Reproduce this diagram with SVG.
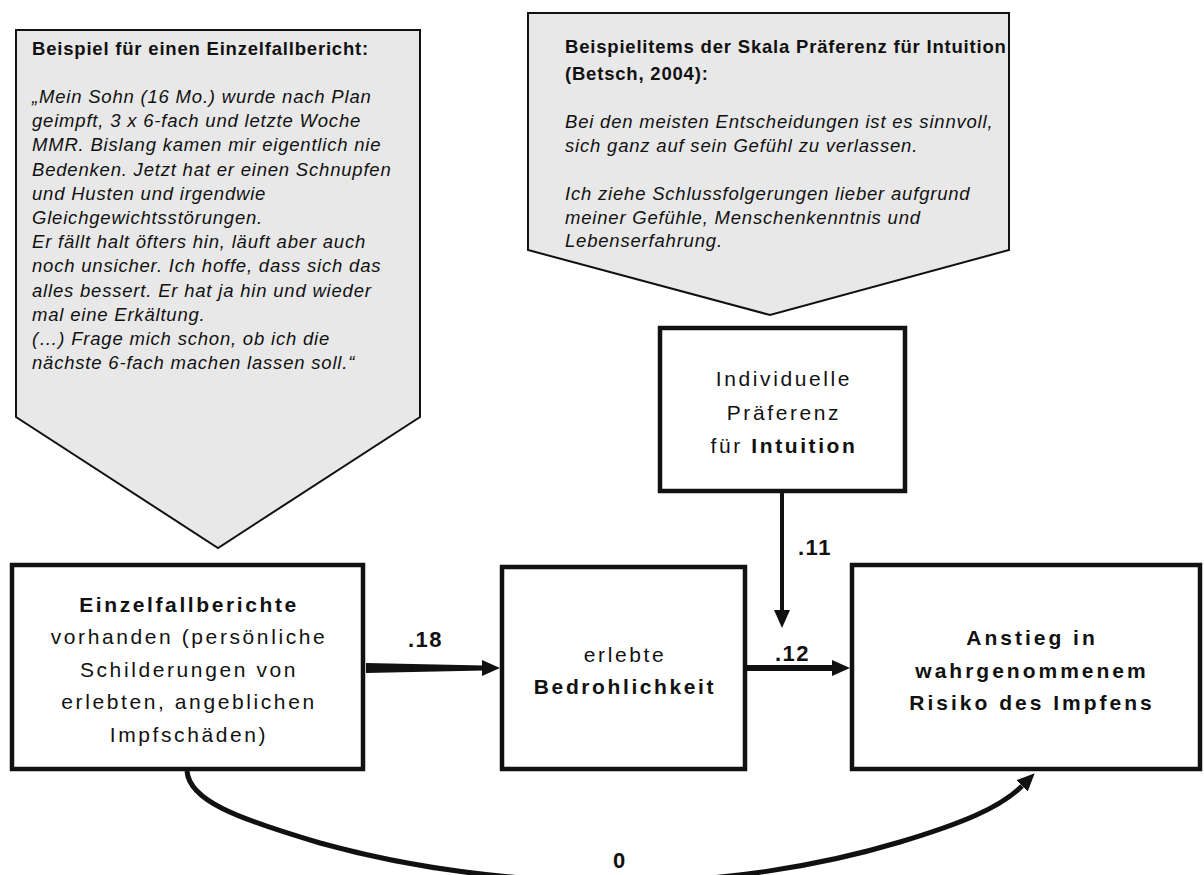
<svg xmlns="http://www.w3.org/2000/svg" width="1204" height="875" viewBox="0 0 1204 875">
<defs>
<style>
text{font-family:"Liberation Sans",Arial,sans-serif;fill:#111}
.callout{fill:#e8e8e8;stroke:#111;stroke-width:2;stroke-linejoin:miter}
.cb{font-size:18.5px;font-weight:bold;letter-spacing:0.8px}
.ci{font-size:18.5px;font-style:italic;letter-spacing:0.8px}
.box{fill:#fff;stroke:#111;stroke-width:4.5}
.bt{font-size:21px;letter-spacing:2.6px;text-anchor:middle}
.bt2{font-size:21px;letter-spacing:3px;text-anchor:middle;font-weight:bold}
.b{font-weight:bold}
.lbl{font-size:22px;font-weight:bold;letter-spacing:1.5px}
.con{fill:none;stroke:#111}
</style>
<marker id="ah" markerUnits="userSpaceOnUse" markerWidth="18" markerHeight="16" refX="0" refY="8" orient="auto">
<path d="M0,0 L18,8 L0,16 z" fill="#111"/>
</marker>
</defs>
<rect width="1204" height="875" fill="#fff"/>

<g id="callout-left">
<polygon class="callout" points="16,30 420,30 420,417 218,548 16,417"/>
<text class="cb" x="32" y="55">Beispiel für einen Einzelfallbericht:</text>
<text class="ci" x="32" y="103">„Mein Sohn (16 Mo.) wurde nach Plan</text>
<text class="ci" x="32" y="127">geimpft, 3 x 6-fach und letzte Woche</text>
<text class="ci" x="32" y="151">MMR. Bislang kamen mir eigentlich nie</text>
<text class="ci" x="32" y="176">Bedenken. Jetzt hat er einen Schnupfen</text>
<text class="ci" x="32" y="200">und Husten und irgendwie</text>
<text class="ci" x="32" y="224">Gleichgewichtsstörungen.</text>
<text class="ci" x="32" y="248">Er fällt halt öfters hin, läuft aber auch</text>
<text class="ci" x="32" y="272">noch unsicher. Ich hoffe, dass sich das</text>
<text class="ci" x="32" y="297">alles bessert. Er hat ja hin und wieder</text>
<text class="ci" x="32" y="321">mal eine Erkältung.</text>
<text class="ci" x="32" y="345">(…) Frage mich schon, ob ich die</text>
<text class="ci" x="32" y="369">nächste 6-fach machen lassen soll.“</text>
</g>

<g id="callout-right">
<polygon class="callout" points="528,13 1009,13 1009,250 770,315 528,250"/>
<text class="cb" x="565" y="53">Beispielitems der Skala Präferenz für Intuition</text>
<text class="cb" x="565" y="80">(Betsch, 2004):</text>
<text class="ci" x="565" y="128">Bei den meisten Entscheidungen ist es sinnvoll,</text>
<text class="ci" x="565" y="152">sich ganz auf sein Gefühl zu verlassen.</text>
<text class="ci" x="565" y="200">Ich ziehe Schlussfolgerungen lieber aufgrund</text>
<text class="ci" x="565" y="224">meiner Gefühle, Menschenkenntnis und</text>
<text class="ci" x="565" y="247">Lebenserfahrung.</text>
</g>

<g id="node-intuition">
<rect class="box" x="660" y="328" width="245" height="163"/>
<text class="bt" x="784" y="386">Individuelle</text>
<text class="bt" x="784" y="420">Präferenz</text>
<text class="bt" x="784" y="453">für <tspan class="b">Intuition</tspan></text>
</g>

<g id="node-einzelfall">
<rect class="box" x="12" y="565" width="351" height="204"/>
<text class="bt b" x="189" y="612">Einzelfallberichte</text>
<text class="bt" x="189" y="644">vorhanden (persönliche</text>
<text class="bt" x="189" y="677">Schilderungen von</text>
<text class="bt" x="189" y="709">erlebten, angeblichen</text>
<text class="bt" x="189" y="742">Impfschäden)</text>
</g>

<g id="node-bedrohlichkeit">
<rect class="box" x="502" y="567" width="243" height="202"/>
<text class="bt" x="625" y="662">erlebte</text>
<text class="bt b" x="625" y="694">Bedrohlichkeit</text>
</g>

<g id="node-risiko">
<rect class="box" x="852" y="565" width="348" height="204"/>
<text class="bt2" x="1032" y="645">Anstieg in</text>
<text class="bt2" x="1032" y="678">wahrgenommenem</text>
<text class="bt2" x="1032" y="710">Risiko des Impfens</text>
</g>

<g id="connectors">
<polygon points="366,663 484,665.5 484,670.5 366,673" fill="#111"/>
<path class="con" d="M480,668 L482,668" stroke-width="4" marker-end="url(#ah)"/>
<path class="con" d="M747,668 L832,668" stroke-width="6" marker-end="url(#ah)"/>
<path class="con" d="M782,493 L782,610" stroke-width="4" marker-end="url(#ah)"/>
<path class="con" d="M187,771 C189,800 235,818 320,843 C410,868 510,881 612,882 C720,883 820,866 900,842 C960,824 1000,808 1022,786" stroke-width="5" marker-end="url(#ah)"/>
<text class="lbl" x="408" y="647">.18</text>
<text class="lbl" x="798" y="555">.11</text>
<text class="lbl" x="775" y="661">.12</text>
<text class="lbl" x="613" y="868">0</text>
</g>
</svg>
